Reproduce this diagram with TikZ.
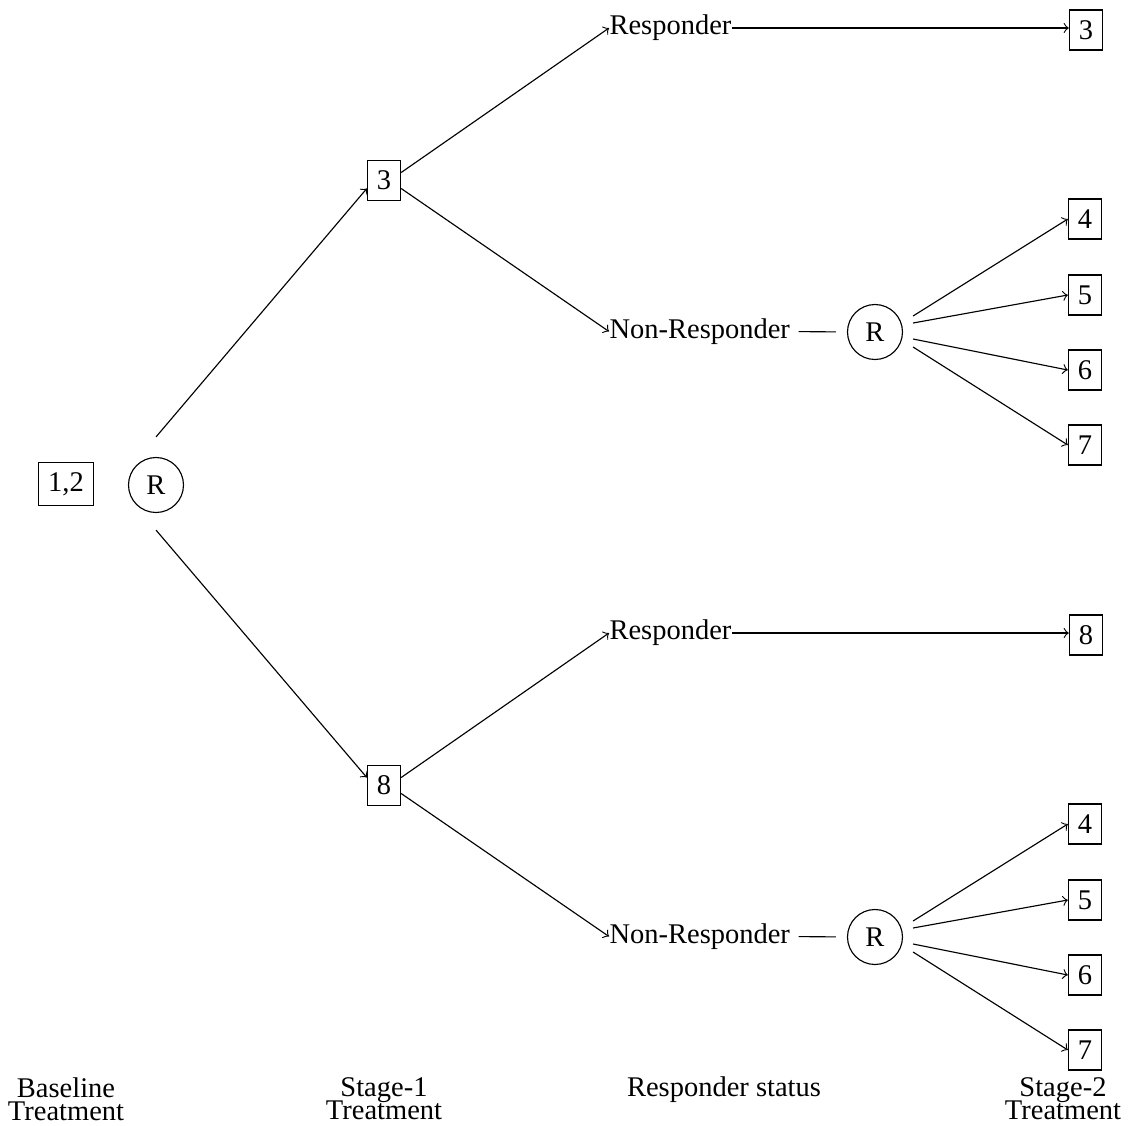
\documentclass[tikz,border=0pt]{standalone}
\usepackage{fontspec}
\setmainfont{Liberation Serif}
\usetikzlibrary{calc}
\begin{document}
\begin{tikzpicture}[x=0.351pt,y=-0.351pt,
  box/.style={draw,inner sep=3.33pt,minimum height=14pt},
  rnd/.style={draw,circle,minimum size=19.3pt,inner sep=0pt},
  txt/.style={inner sep=0pt,anchor=west},
  lab/.style={inner sep=0pt,align=center,anchor=north,font={\fontsize{10}{8}\selectfont\lineskiplimit=-20pt\lineskip=0pt}},
  arr/.style={->}]
\useasboundingbox (0,0) rectangle (1131,1126);

% left
\node[box] (n12) at (66,484) {1,2};
\node[rnd] (rL) at (156,485) {R};

% stage-1
\node[box] (b3) at (384,180.5) {3};
\node[box] (b8) at (384,785.5) {8};

% responder status (top)
\node[txt] (resp1) at (609,28) {Responder};
\node[txt] (nr1) at (609,331.5) {Non-Responder};
\node[rnd] (rc1) at (875,332) {R};
% responder status (bottom)
\node[txt] (resp2) at (609,633) {Responder};
\node[txt] (nr2) at (609,936.5) {Non-Responder};
\node[rnd] (rc2) at (875,937) {R};

% stage-2 (top)
\node[box] (t3) at (1086,30) {3};
\node[box] (t4a) at (1085,219) {4};
\node[box] (t5a) at (1085,295) {5};
\node[box] (t6a) at (1085,370) {6};
\node[box] (t7a) at (1085,445) {7};
% stage-2 (bottom)
\node[box] (t8) at (1086,635) {8};
\node[box] (t4b) at (1085,824) {4};
\node[box] (t5b) at (1085,900) {5};
\node[box] (t6b) at (1085,975) {6};
\node[box] (t7b) at (1085,1050) {7};

% bottom labels
\node[lab] (l1) at (66,1077) {Baseline\\Treatment};
\node[lab] (l2) at (384,1077) {Stage-1\\Treatment};
\node[inner sep=0pt,anchor=base] (l3) at (724,1096) {Responder status};
\node[lab] (l4) at (1063,1077) {Stage-2\\Treatment};

% connectors
\draw[arr] ($(rL.north)+(0,-20)$) -- ($(b3.west)+(0,8)$);
\draw[arr] ($(rL.south)+(0,17)$) -- ($(b8.west)+(0,-8)$);

\draw[arr] ($(b3.east)+(0,-8)$) -- (resp1.west);
\draw[arr] ($(b3.east)+(0,8)$) -- (nr1.west);
\draw[arr] ($(b8.east)+(0,-8)$) -- (resp2.west);
\draw[arr] ($(b8.east)+(0,8)$) -- (nr2.west);

\draw[arr] (resp1.east) -- (resp1.east -| t3.west);
\draw[arr] (resp2.east) -- (resp2.east -| t8.west);

\draw[shorten <=2.8pt, shorten >=3.9pt] (nr1.east) -- (rc1.west);
\draw[shorten <=2.8pt, shorten >=3.9pt] (nr2.east) -- (rc2.west);

\draw[arr] ($(rc1.east)+(10,-16)$) -- (t4a.west);
\draw[arr] ($(rc1.east)+(10,-9)$) -- (t5a.west);
\draw[arr] ($(rc1.east)+(10,7)$) -- (t6a.west);
\draw[arr] ($(rc1.east)+(10,15)$) -- (t7a.west);

\draw[arr] ($(rc2.east)+(10,-16)$) -- (t4b.west);
\draw[arr] ($(rc2.east)+(10,-9)$) -- (t5b.west);
\draw[arr] ($(rc2.east)+(10,7)$) -- (t6b.west);
\draw[arr] ($(rc2.east)+(10,15)$) -- (t7b.west);
\end{tikzpicture}
\end{document}
